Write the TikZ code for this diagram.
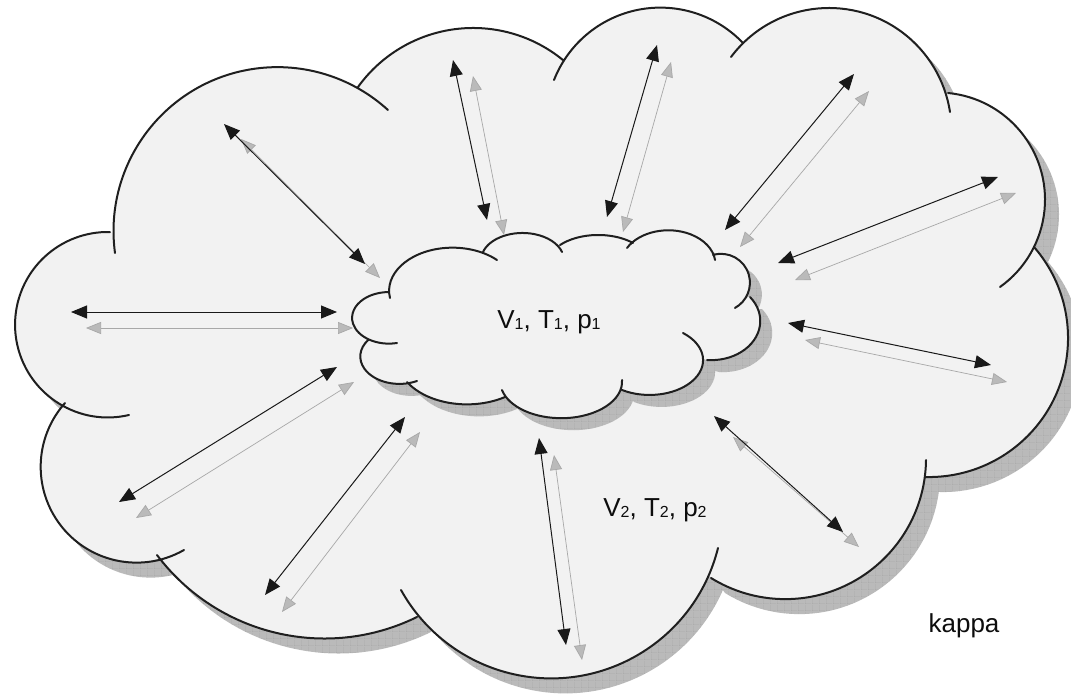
\documentclass[tikz,border=0pt]{standalone}
\usepackage{fontspec}
\setmainfont{Liberation Sans}
\usetikzlibrary{arrows.meta,patterns}

\definecolor{cloudgray}{HTML}{F2F2F2}
\definecolor{shadegray}{HTML}{BABABA}
\definecolor{gridgray}{HTML}{8C8C8C}
\definecolor{linegray}{HTML}{A8A8A8}

\pgfdeclarepatternformonly{shadowgrid}{\pgfpointorigin}{\pgfpoint{7pt}{7pt}}{\pgfpoint{7pt}{7pt}}{%
  \pgfsetlinewidth{0.5pt}
  \pgfpathmoveto{\pgfpointorigin}\pgfpathlineto{\pgfpoint{7.1pt}{0pt}}
  \pgfpathmoveto{\pgfpointorigin}\pgfpathlineto{\pgfpoint{0pt}{7.1pt}}
  \pgfusepath{stroke}}

\newcommand{\lowdigit}[1]{\raisebox{-1.5pt}{\fontsize{16}{16}\selectfont#1}}

% one lobe = elliptic arc (height/width = #2) through three points, drawn clockwise
\newcommand{\setlobe}[8]{%
  \pgfmathsetmacro{\lbxa}{#3/100}\pgfmathsetmacro{\lbya}{#4/100/#2}%
  \pgfmathsetmacro{\lbxb}{#5/100}\pgfmathsetmacro{\lbyb}{#6/100/#2}%
  \pgfmathsetmacro{\lbxc}{#7/100}\pgfmathsetmacro{\lbyc}{#8/100/#2}%
  \pgfmathsetmacro{\lbd}{2*(\lbxa*(\lbyb-\lbyc)+\lbxb*(\lbyc-\lbya)+\lbxc*(\lbya-\lbyb))}%
  \pgfmathsetmacro{\lbux}{((\lbxa*\lbxa+\lbya*\lbya)*(\lbyb-\lbyc)+(\lbxb*\lbxb+\lbyb*\lbyb)*(\lbyc-\lbya)+(\lbxc*\lbxc+\lbyc*\lbyc)*(\lbya-\lbyb))/\lbd}%
  \pgfmathsetmacro{\lbuy}{((\lbxa*\lbxa+\lbya*\lbya)*(\lbxc-\lbxb)+(\lbxb*\lbxb+\lbyb*\lbyb)*(\lbxa-\lbxc)+(\lbxc*\lbxc+\lbyc*\lbyc)*(\lbxb-\lbxa))/\lbd}%
  \pgfmathsetmacro{\lbr}{100*veclen(\lbxa-\lbux,\lbya-\lbuy)}%
  \pgfmathsetmacro{\lbry}{\lbr*#2}%
  \pgfmathsetmacro{\lbsa}{atan2(\lbya-\lbuy,\lbxa-\lbux)}%
  \pgfmathsetmacro{\lbca}{atan2(\lbyc-\lbuy,\lbxc-\lbux)}%
  \pgfmathsetmacro{\lbea}{\lbsa+mod(\lbca-\lbsa+720,360)}%
  \expandafter\xdef\csname #1\endcsname{(#3,#4) arc[start angle=\lbsa, end angle=\lbea, x radius=\lbr, y radius=\lbry]}%
  \expandafter\xdef\csname #1fan\endcsname{-- (#3,#4) arc[start angle=\lbsa, end angle=\lbea, x radius=\lbr, y radius=\lbry]}%
}

\setlobe{oA}{1}{115}{253}{205}{84}{388}{110}
\setlobe{oB}{1}{358}{87}{470}{28}{563}{60}
\setlobe{oC}{1}{554}{80}{651}{8}{743}{43}
\setlobe{oD}{1}{731}{57}{830}{8}{950}{112}
\setlobe{oE}{1}{948}{93}{1045}{200}{1000}{287}
\setlobe{oF}{1}{1034}{247}{1068}{340}{926}{477}
\setlobe{oG}{1}{926}{460}{840}{588}{711}{578}
\setlobe{oH}{1}{718}{548}{610}{668}{401}{590}
\setlobe{oI}{1}{417}{617}{310}{638}{157}{555}
\setlobe{oJ}{1}{184}{550}{52}{512}{65}{403}
\setlobe{oK}{1}{129}{415}{16}{338}{110}{232}

\setlobe{iA}{0.7}{397}{343}{352}{318}{388}{292}
\setlobe{iB}{0.68}{390}{298}{422}{253}{497}{260}
\setlobe{iC}{0.65}{483}{252}{524}{233}{562}{252}
\setlobe{iD}{0.6}{560}{245}{600}{235}{633}{243}
\setlobe{iE}{0.72}{627}{248}{683}{232}{715}{260}
\setlobe{iF}{1}{713}{255}{750}{283}{735}{308}
\setlobe{iG}{0.8}{750}{297}{760}{325}{707}{360}
\setlobe{iH}{0.65}{683}{333}{703}{362}{622}{390}
\setlobe{iI}{0.6}{622}{380}{555}{418}{502}{390}
\setlobe{iJ}{0.65}{505}{397}{450}{403}{407}{382}
\setlobe{iK}{0.7}{417}{381}{361}{362}{368}{340}

\newcommand{\outerfans}{(540,350) \oAfan -- cycle (540,350) \oBfan -- cycle (540,350) \oCfan -- cycle
  (540,350) \oDfan -- cycle (540,350) \oEfan -- cycle (540,350) \oFfan -- cycle (540,350) \oGfan -- cycle
  (540,350) \oHfan -- cycle (540,350) \oIfan -- cycle (540,350) \oJfan -- cycle (540,350) \oKfan -- cycle}
\newcommand{\innerfans}{(556,322) \iAfan -- cycle (556,322) \iBfan -- cycle (556,322) \iCfan -- cycle
  (556,322) \iDfan -- cycle (556,322) \iEfan -- cycle (556,322) \iFfan -- cycle (556,322) \iGfan -- cycle
  (556,322) \iHfan -- cycle (556,322) \iIfan -- cycle (556,322) \iJfan -- cycle (556,322) \iKfan -- cycle}

\tikzset{
  cloudline/.style={line width=2pt, draw=black!88, line cap=round},
  cloudfill/.style={fill=cloudgray},
  shadowfill/.style={preaction={fill=shadegray}, pattern=shadowgrid, pattern color=gridgray},
  blackarrow/.style={{Triangle[length=16pt,width=13pt]}-{Triangle[length=16pt,width=13pt]}, line width=1pt, black!90},
  grayarrow/.style={{Triangle[length=15pt,width=12pt,fill=shadegray]}-{Triangle[length=15pt,width=12pt,fill=shadegray]}, line width=0.7pt, draw=linegray},
  cloudtext/.style={font=\fontsize{26}{30}\selectfont, inner sep=0pt, anchor=base, text=black!95}
}

\begin{document}
\begin{tikzpicture}[x=1pt,y=-1pt]
\useasboundingbox (0,0) rectangle (1071,695);
\path[shadowfill,shift={(14,15)}] \outerfans;
\fill[cloudfill] \outerfans;
\draw[cloudline] \oA \oB \oC \oD \oE \oF \oG \oH \oI \oJ \oK;
\path[shadowfill,shift={(12,12)}] \innerfans;
\fill[cloudfill] \innerfans;
\draw[cloudline] \iA \iB \iC \iD \iE \iF \iG \iH \iI \iJ \iK;

\coordinate (ba1) at (224,124); \coordinate (ba2) at (365,264);
\coordinate (ga1) at (241,139); \coordinate (ga2) at (380,278);
\coordinate (bb1) at (71,312); \coordinate (bb2) at (337,312);
\coordinate (gb1) at (86,328); \coordinate (gb2) at (353,328);
\coordinate (bc1) at (453,60); \coordinate (bc2) at (487,220);
\coordinate (gc1) at (473,76); \coordinate (gc2) at (504,235);
\coordinate (bd1) at (657,45); \coordinate (bd2) at (607,217);
\coordinate (gd1) at (671,62); \coordinate (gd2) at (623,232);
\coordinate (be1) at (854,74); \coordinate (be2) at (725,230);
\coordinate (ge1) at (869,91); \coordinate (ge2) at (740,247);
\coordinate (bf1) at (998,177); \coordinate (bf2) at (778,263);
\coordinate (gf1) at (1016,193); \coordinate (gf2) at (795,280);
\coordinate (bg1) at (991,365); \coordinate (bg2) at (788,323);
\coordinate (gg1) at (1007,382); \coordinate (gg2) at (805,340);
\coordinate (bh1) at (843,532); \coordinate (bh2) at (714,416);
\coordinate (gh1) at (859,547); \coordinate (gh2) at (733,437);
\coordinate (bi1) at (566,645); \coordinate (bi2) at (539,438);
\coordinate (gi1) at (582,660); \coordinate (gi2) at (554,455);
\coordinate (bj1) at (265,595); \coordinate (bj2) at (405,417);
\coordinate (gj1) at (282,612); \coordinate (gj2) at (420,432);
\coordinate (bk1) at (119,502); \coordinate (bk2) at (337,367);
\coordinate (gk1) at (136,518); \coordinate (gk2) at (354,382);

\draw[grayarrow] (ga1) -- (ga2);
\draw[grayarrow] (gb1) -- (gb2);
\draw[grayarrow] (gc1) -- (gc2);
\draw[grayarrow] (gd1) -- (gd2);
\draw[grayarrow] (ge1) -- (ge2);
\draw[grayarrow] (gf1) -- (gf2);
\draw[grayarrow] (gg1) -- (gg2);
\draw[grayarrow] (gh1) -- (gh2);
\draw[grayarrow] (gi1) -- (gi2);
\draw[grayarrow] (gj1) -- (gj2);
\draw[grayarrow] (gk1) -- (gk2);
\draw[blackarrow] (ba1) -- (ba2);
\draw[blackarrow] (bb1) -- (bb2);
\draw[blackarrow] (bc1) -- (bc2);
\draw[blackarrow] (bd1) -- (bd2);
\draw[blackarrow] (be1) -- (be2);
\draw[blackarrow] (bf1) -- (bf2);
\draw[blackarrow] (bg1) -- (bg2);
\draw[blackarrow] (bh1) -- (bh2);
\draw[blackarrow] (bi1) -- (bi2);
\draw[blackarrow] (bj1) -- (bj2);
\draw[blackarrow] (bk1) -- (bk2);

\node[cloudtext] (inner) at (549,328) {V\lowdigit{1}, T\lowdigit{1}, p\lowdigit{1}};
\node[cloudtext] (outer) at (655,516) {V\lowdigit{2}, T\lowdigit{2}, p\lowdigit{2}};
\node[cloudtext] (kappa) at (964,632) {kappa};
\end{tikzpicture}
\end{document}
